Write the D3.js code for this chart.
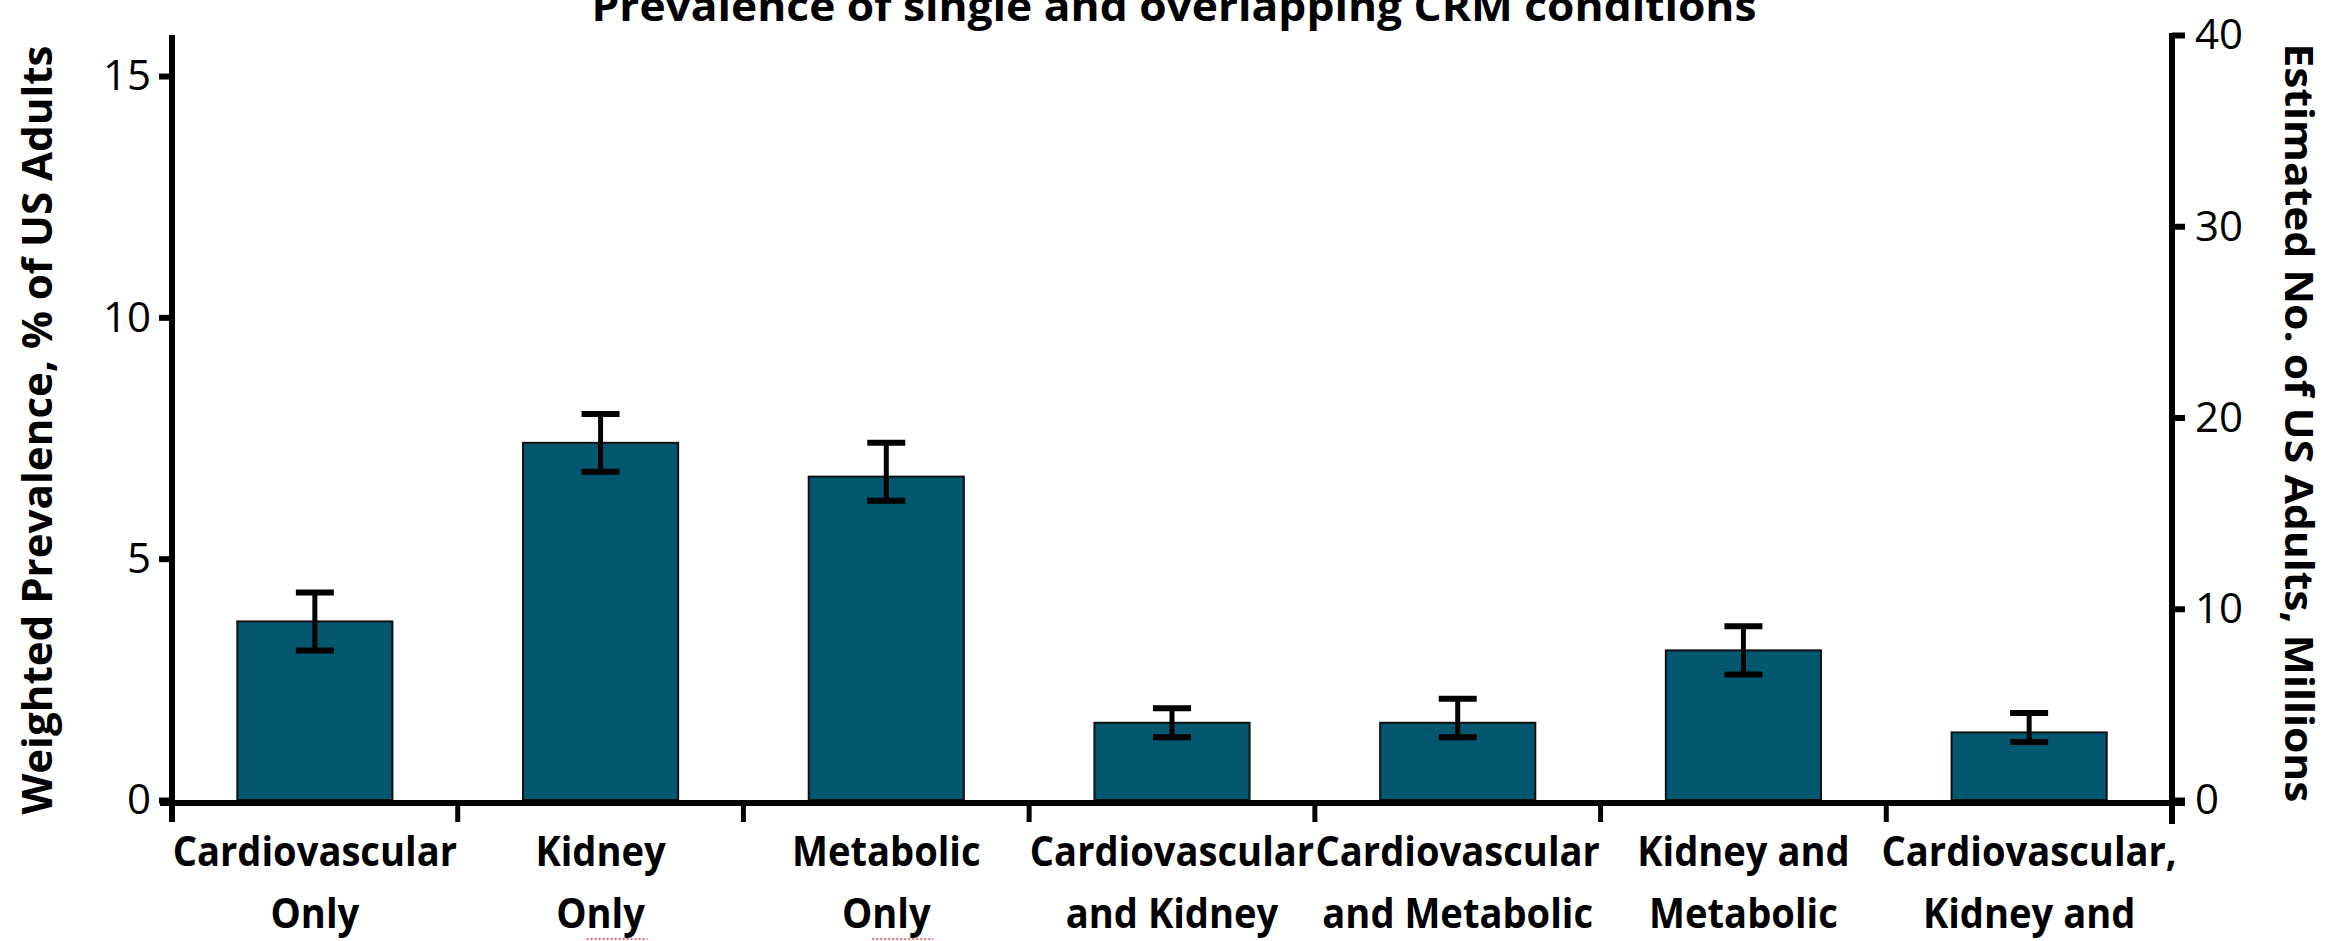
<!DOCTYPE html>
<html>
<head>
<meta charset="utf-8">
<script src="https://cdn.jsdelivr.net/npm/d3@7"></script>
<style>
  html, body { margin: 0; padding: 0; background: #ffffff; }
  svg { display: block; }
  text { font-family: "Open Sans", "Noto Sans", sans-serif; fill: #000; }
</style>
</head>
<body>
<svg id="chart" width="2330" height="941"></svg>
<script>
// ---- data ----
const categories = ["cv", "k", "m", "cvk", "cvm", "km", "cvkm"];
const labelLine1 = ["Cardiovascular", "Kidney", "Metabolic", "Cardiovascular", "Cardiovascular", "Kidney and", "Cardiovascular,"];
const labelLine2 = ["Only", "Only", "Only", "and Kidney", "and Metabolic", "Metabolic", "Kidney and"];
const prevalence = [3.7, 7.4, 6.7, 1.6, 1.6, 3.1, 1.4];
const ciLower = [3.1, 6.8, 6.2, 1.3, 1.3, 2.6, 1.2];
const ciUpper = [4.3, 8.0, 7.4, 1.9, 2.1, 3.6, 1.8];
const leftTicks = [0, 5, 10, 15];
const rightTicks = [0, 10, 20, 30, 40];
const leftMax = 15.85;   // % of US adults at top of axis
const rightMax = 40;     // millions at top of axis
const titleText = "Prevalence of single and overlapping CRM conditions";
const leftTitle = "Weighted Prevalence, % of US Adults";
const rightTitle = "Estimated No. of US Adults, Millions";

// ---- layout ----
const svg = d3.select("#chart");
const x0 = 172, x1 = 2172, yBottom = 800, yTop = 35;

const x = d3.scaleBand().domain(categories).range([x0, x1])
  .paddingInner(0.457).paddingOuter(0.2285);
const yL = d3.scaleLinear().domain([0, leftMax]).range([yBottom, yTop]);
const yR = d3.scaleLinear().domain([0, rightMax]).range([yBottom, yTop]);

const data = categories.map((c, i) => ({c, v: prevalence[i], lo: ciLower[i], hi: ciUpper[i], l1: labelLine1[i], l2: labelLine2[i]}));

// bars
svg.append("g").selectAll("rect").data(data).join("rect")
  .attr("x", d => x(d.c))
  .attr("width", x.bandwidth())
  .attr("y", d => yL(d.v))
  .attr("height", d => yL(0) - yL(d.v))
  .attr("fill", "#03586f")
  .attr("stroke", "#111")
  .attr("stroke-width", 2);

// error bars
const eb = svg.append("g").attr("stroke", "#000");
const cx = d => x(d.c) + x.bandwidth() / 2;
eb.selectAll("line.stem").data(data).join("line").attr("class", "stem")
  .attr("x1", cx).attr("x2", cx)
  .attr("y1", d => yL(d.lo)).attr("y2", d => yL(d.hi))
  .attr("stroke-width", 5);
eb.selectAll("line.capTop").data(data).join("line").attr("class", "capTop")
  .attr("x1", d => cx(d) - 19).attr("x2", d => cx(d) + 19)
  .attr("y1", d => yL(d.hi)).attr("y2", d => yL(d.hi))
  .attr("stroke-width", 6);
eb.selectAll("line.capBot").data(data).join("line").attr("class", "capBot")
  .attr("x1", d => cx(d) - 19).attr("x2", d => cx(d) + 19)
  .attr("y1", d => yL(d.lo)).attr("y2", d => yL(d.lo))
  .attr("stroke-width", 6);

// left axis
const gL = svg.append("g").attr("transform", `translate(${x0},0)`)
  .call(d3.axisLeft(yL).tickValues(leftTicks).tickSize(13).tickSizeOuter(0).tickPadding(8).tickFormat(d3.format("d")));
gL.select(".domain").remove();
gL.selectAll(".tick line").attr("stroke-width", 6);
gL.selectAll(".tick text").attr("font-size", 42).attr("font-family", "Open Sans").attr("dy", "0.33em");
svg.append("line").attr("x1", x0).attr("x2", x0).attr("y1", yL(leftMax)).attr("y2", yBottom + 22)
  .attr("stroke", "#000").attr("stroke-width", 6);

// right axis
const gR = svg.append("g").attr("transform", `translate(${x1},0)`)
  .call(d3.axisRight(yR).tickValues(rightTicks).tickSize(13).tickSizeOuter(0).tickPadding(10).tickFormat(d3.format("d")));
gR.select(".domain").remove();
gR.selectAll(".tick line").attr("stroke-width", 6);
gR.selectAll(".tick text").attr("font-size", 42).attr("font-family", "Open Sans").attr("dy", "0.33em");
svg.append("line").attr("x1", x1).attr("x2", x1).attr("y1", yR(rightMax) - 2).attr("y2", yBottom + 24)
  .attr("stroke", "#000").attr("stroke-width", 6);

// x axis line and boundary ticks
svg.append("line").attr("x1", x0 - 12).attr("x2", x1 + 13).attr("y1", yBottom + 3).attr("y2", yBottom + 3)
  .attr("stroke", "#000").attr("stroke-width", 6);
const half = x.step() * x.paddingInner() / 2;
const bounds = categories.map(c => x(c) - half).concat([x(categories[categories.length - 1]) + x.bandwidth() + half]);
svg.append("g").selectAll("line").data(bounds).join("line")
  .attr("x1", d => d).attr("x2", d => d)
  .attr("y1", yBottom + 3).attr("y2", yBottom + 22)
  .attr("stroke", "#000").attr("stroke-width", 5);

// x labels (condensed to match the narrow face of the reference)
const xl = svg.append("g").attr("font-size", 41).attr("font-weight", "bold").attr("text-anchor", "middle");
xl.selectAll("text.l1").data(data).join("text").attr("class", "l1")
  .attr("x", cx).attr("y", 866).text(d => d.l1);
xl.selectAll("text.l2").data(data).join("text").attr("class", "l2")
  .attr("x", cx).attr("y", 928).text(d => d.l2);
xl.selectAll("text").each(function() {
  const len = this.getComputedTextLength();
  d3.select(this).attr("textLength", len * 0.93).attr("lengthAdjust", "spacingAndGlyphs");
});

// spell-check squiggles under "Only" (as seen in reference)
svg.append("g").selectAll("line").data(data.filter((d, i) => i === 1 || i === 2)).join("line")
  .attr("x1", d => cx(d) - 14).attr("x2", d => cx(d) + 47)
  .attr("y1", 939).attr("y2", 939)
  .attr("stroke", "#e07070").attr("stroke-width", 2).attr("stroke-dasharray", "2,2");

// title (top edge clipped as in the reference)
svg.append("text").attr("x", (x0 + x1) / 2 + 2).attr("y", 21)
  .attr("text-anchor", "middle").attr("font-size", 42).attr("font-weight", "bold")
  .attr("textLength", 1165).attr("lengthAdjust", "spacingAndGlyphs")
  .text(titleText);

// axis titles
svg.append("text").attr("transform", "translate(52,430) rotate(-90)")
  .attr("text-anchor", "middle").attr("font-size", 42).attr("font-weight", "bold")
  .attr("textLength", 769).attr("lengthAdjust", "spacingAndGlyphs")
  .text(leftTitle);
svg.append("text").attr("transform", "translate(2285,423) rotate(90)")
  .attr("text-anchor", "middle").attr("font-size", 40).attr("font-weight", "bold")
  .attr("textLength", 759).attr("lengthAdjust", "spacingAndGlyphs")
  .text(rightTitle);
</script>
</body>
</html>
